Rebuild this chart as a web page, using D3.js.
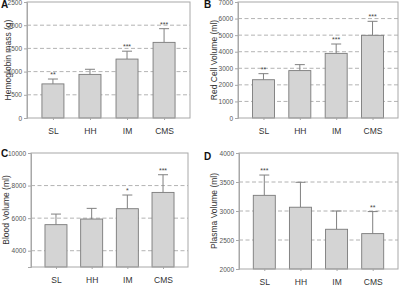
<!DOCTYPE html>
<html><head><meta charset="utf-8">
<script src="https://cdn.jsdelivr.net/npm/d3@7"></script>
<style>body{margin:0;background:#fff}svg{display:block}</style>
</head><body>
<svg id="c" width="400" height="286"></svg>
<script>
const categories = ["SL","HH","IM","CMS"];
const hbMass = [735, 940, 1270, 1630];
const hbMassSD = [105, 110, 170, 295];
const hbMassStars = ["**","","***","***"];
const hbMassTicks = [0,500,1000,1500,2000,2500];
const rcv = [2310, 2860, 3900, 4990];
const rcvSD = [365, 360, 565, 845];
const rcvStars = ["**","","***","***"];
const rcvTicks = [0,1000,2000,3000,4000,5000,6000,7000];
const bv = [5600, 5945, 6580, 7580];
const bvSD = [650, 655, 840, 1085];
const bvStars = ["","","*","***"];
const bvTicks = [4000,6000,8000,10000];
const pv = [3270, 3065, 2685, 2610];
const pvSD = [350, 430, 315, 380];
const pvStars = ["***","","","**"];
const pvTicks = [2000,2500,3000,3500,4000];

const svg = d3.select("#c");
const panels = [
  {letter:"A", title:"Hemoglobin mass (g)", vals:hbMass, sd:hbMassSD, stars:hbMassStars, ticks:hbMassTicks, domain:[0,2500], l:27, r:190, t:2, b:118, lx:1, ly:8, tx:8},
  {letter:"B", title:"Red Cell Volume (ml)", vals:rcv, sd:rcvSD, stars:rcvStars, ticks:rcvTicks, domain:[0,7000], l:238, r:398, t:2, b:118, lx:204, ly:8, tx:214},
  {letter:"C", title:"Blood Volume (ml)", vals:bv, sd:bvSD, stars:bvStars, ticks:bvTicks, domain:[3000,10000], l:31, r:188, t:153, b:267, lx:1, ly:157, tx:6},
  {letter:"D", title:"Plasma Volume (ml)", vals:pv, sd:pvSD, stars:pvStars, ticks:pvTicks, domain:[2000,4000], l:239, r:398, t:153, b:269, lx:204, ly:160, tx:214}
];

panels.forEach(p => {
  const g = svg.append("g");
  const x = d3.scalePoint().domain(categories).range([p.l, p.r]).padding(0.7);
  const y = d3.scaleLinear().domain(p.domain).range([p.b, p.t]);
  const bw = 22;
  // gridlines
  g.selectAll(".grid").data(p.ticks.filter(t => t > p.domain[0] && t < p.domain[1]))
    .enter().append("line")
    .attr("x1", p.l).attr("x2", p.r)
    .attr("y1", d => y(d)).attr("y2", d => y(d))
    .attr("stroke", "#a0a0a0").attr("stroke-width", 0.8).attr("stroke-dasharray", "4,2.5");
  // error bars
  categories.forEach((c, i) => {
    const cx = x(c);
    const top = y(p.vals[i] + p.sd[i]);
    g.append("line").attr("x1", cx).attr("x2", cx).attr("y1", y(p.vals[i])).attr("y2", top)
      .attr("stroke", "#808080").attr("stroke-width", 1);
    g.append("line").attr("x1", cx - 5).attr("x2", cx + 5).attr("y1", top).attr("y2", top)
      .attr("stroke", "#808080").attr("stroke-width", 1);
    if (p.stars[i]) {
      g.append("text").attr("x", cx).attr("y", top - 2).attr("text-anchor", "middle")
        .attr("font-family", "Arial, Liberation Sans, sans-serif").attr("font-size", 7)
        .attr("fill", "#444").text(p.stars[i]);
    }
  });
  // bars
  g.selectAll(".bar").data(categories).enter().append("rect")
    .attr("x", c => x(c) - bw / 2).attr("width", bw)
    .attr("y", (c, i) => y(p.vals[i])).attr("height", (c, i) => p.b - y(p.vals[i]))
    .attr("fill", "#d4d4d4").attr("stroke", "#7a7a7a").attr("stroke-width", 0.9);
  // frame
  g.append("rect").attr("x", p.l).attr("y", p.t).attr("width", p.r - p.l).attr("height", p.b - p.t)
    .attr("fill", "none").attr("stroke", "#a8a8a8").attr("stroke-width", 1);
  // y axis
  const ya = g.append("g").attr("transform", `translate(${p.l},0)`)
    .call(d3.axisLeft(y).tickValues(p.ticks).tickSize(3).tickPadding(2).tickFormat(d3.format("d")));
  ya.select(".domain").attr("stroke", "#a8a8a8");
  ya.selectAll(".tick line").attr("stroke", "#a8a8a8");
  ya.selectAll("text").attr("font-family", "Arial, Liberation Sans, sans-serif").attr("font-size", 6.5).attr("fill", "#555");
  // x axis
  const xa = g.append("g").attr("transform", `translate(0,${p.b})`)
    .call(d3.axisBottom(x).tickSize(2).tickPadding(8));
  xa.select(".domain").remove();
  xa.selectAll(".tick line").attr("stroke", "#a8a8a8");
  xa.selectAll("text").attr("font-family", "Arial, Liberation Sans, sans-serif").attr("font-size", 8.5).attr("fill", "#333");
  // y title
  g.append("text").attr("transform", `translate(${p.tx + 3},${(p.t + p.b) / 2}) rotate(-90)`)
    .attr("text-anchor", "middle").attr("font-family", "Arial, Liberation Sans, sans-serif")
    .attr("font-size", 8.5).attr("fill", "#333").text(p.title);
  // panel letter
  g.append("text").attr("x", p.lx).attr("y", p.ly).attr("font-family", "Arial, Liberation Sans, sans-serif")
    .attr("font-weight", "bold").attr("font-size", 10).attr("fill", "#111").text(p.letter);
});
</script>
</body></html>
